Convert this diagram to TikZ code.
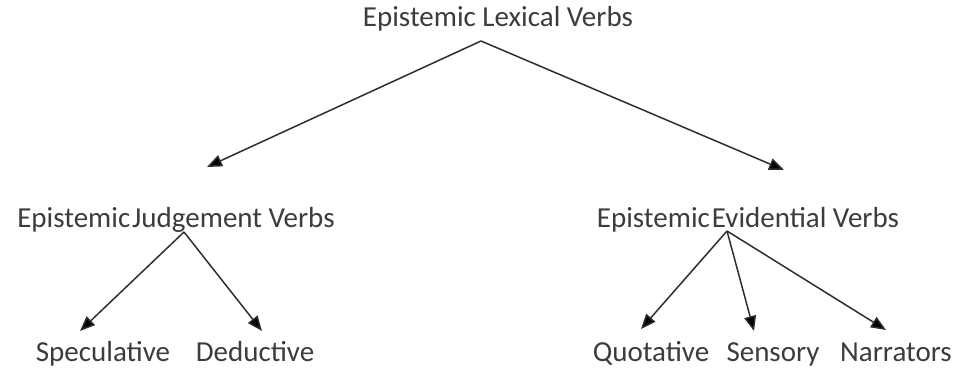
\documentclass[tikz,border=0pt]{standalone}
\usepackage{fontspec}
\setmainfont{Carlito}
\usetikzlibrary{arrows.meta}
\definecolor{labelgray}{HTML}{3C3C3C}
\definecolor{linegray}{HTML}{2E2E2E}
\begin{document}
\begin{tikzpicture}[x=1pt,y=-1pt,
  lbl/.style={font=\fontsize{29}{32}\selectfont, text=labelgray,
    inner sep=0pt, anchor=base},
  branch/.style={draw=linegray, line width=1.5pt,
    -{Triangle[length=15pt,width=12pt,fill=black]}}]
\useasboundingbox (0,0) rectangle (955,369);
% labels (placed by their baselines)
\node[lbl] (root) at (498,27) {Epistemic Lexical Verbs};
\node[lbl] (judg) at (176,227) {Epistemic\hspace{2pt}Judgement Verbs};
\node[lbl] (evid) at (748,227) {Epistemic\hspace{2pt}Evidential Verbs};
\node[lbl] (spec) at (103,361) {Speculative};
\node[lbl] (dedu) at (255,361) {Deductive};
\node[lbl] (quot) at (651,361) {Quotative};
\node[lbl] (sens) at (773,361) {Sensory};
\node[lbl] (narr) at (896,361) {Narrators};
% arrow origins and tips
\coordinate (r0) at (481,41);
\coordinate (rj) at (207,167);
\coordinate (re) at (784,170);
\coordinate (j0) at (184,232);
\coordinate (js) at (80,331);
\coordinate (jd) at (262,331);
\coordinate (e0) at (727,231);
\coordinate (eq) at (641,329);
\coordinate (es) at (754,331);
\coordinate (en) at (886,330);
% connectors
\draw[branch] (r0) -- (rj);
\draw[branch] (r0) -- (re);
\draw[branch] (j0) -- (js);
\draw[branch] (j0) -- (jd);
\draw[branch] (e0) -- (eq);
\draw[branch] (e0) -- (es);
\draw[branch] (e0) -- (en);
\end{tikzpicture}
\end{document}
